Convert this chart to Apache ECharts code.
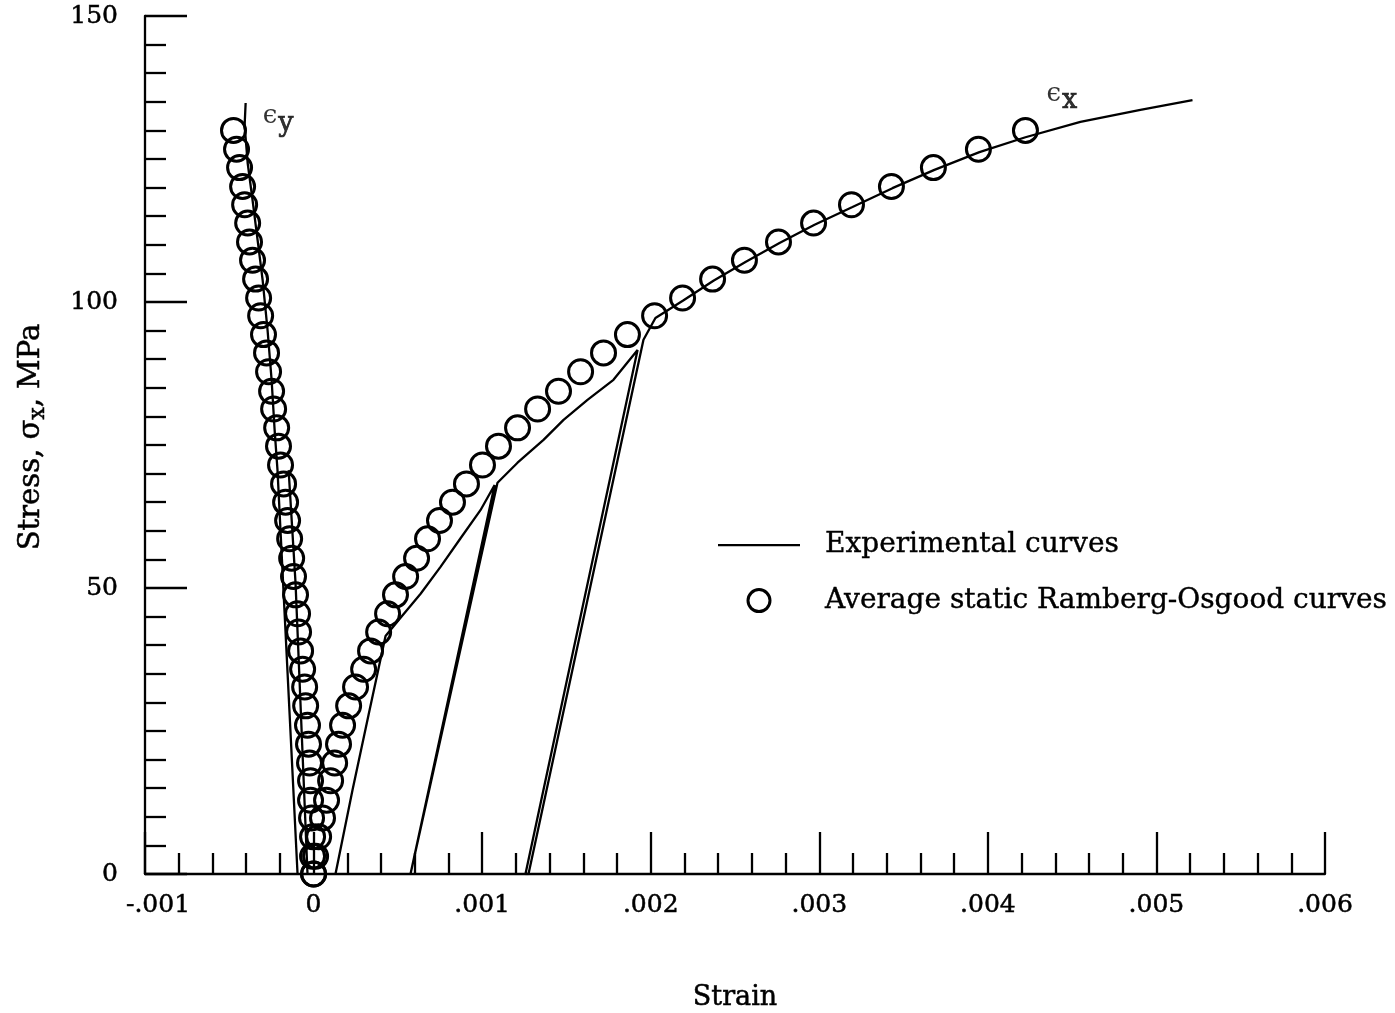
<!DOCTYPE html>
<html><head><meta charset="utf-8">
<script src="https://cdn.jsdelivr.net/npm/echarts@6/dist/echarts.min.js"></script>
<style>html,body{margin:0;padding:0;background:#fff}#c{width:1395px;height:1013px}</style>
</head><body><div id="c"></div>
<script>
// ---- tick labels ----
const xTickLabels = ['-.001', '0', '.001', '.002', '.003', '.004', '.005', '.006'];
const yTickLabels = ['0', '50', '100', '150'];

// ---- Average static Ramberg-Osgood curves (circles) ----
const roStress = [0, 3.1, 6.5, 9.8, 12.9, 16.3, 19.4, 22.7, 26.0, 29.4, 32.7, 35.8, 39.0, 42.3, 45.5, 48.8, 52.0, 55.2, 58.6, 61.8, 65.0,
  68.2, 71.5, 74.8, 78.0, 81.3, 84.4, 87.8, 91.1, 94.3, 97.6, 100.7, 104.0, 107.3, 110.5, 113.8, 117.0, 120.2, 123.5, 126.7, 130.0];
const roStrainY = [0, -0.000006, -0.000006, -0.000012, -0.000018, -0.000018, -0.000024, -0.00003, -0.000036, -0.000047, -0.000053,
  -0.000065, -0.000077, -0.000089, -0.000095, -0.000107, -0.000119, -0.00013, -0.000142, -0.000154, -0.000166, -0.000178, -0.000196,
  -0.000208, -0.000219, -0.000237, -0.000249, -0.000267, -0.000279, -0.000297, -0.000314, -0.000326, -0.000344, -0.000362, -0.00038,
  -0.000391, -0.000409, -0.000421, -0.000439, -0.000457, -0.000475];
const roStrainX = [0, 0.000012, 0.00003, 0.000053, 0.000077, 0.000101, 0.000125, 0.000148, 0.000172, 0.000208, 0.000249, 0.000297,
  0.000338, 0.000386, 0.000439, 0.000486, 0.000546, 0.000611, 0.000676, 0.000747, 0.000824, 0.000907, 0.001002, 0.001097, 0.00121,
  0.001329, 0.001453, 0.001584, 0.00172, 0.001862, 0.002023, 0.002189, 0.002367, 0.002556, 0.002758, 0.002966, 0.003191, 0.003428,
  0.003677, 0.003944, 0.004223];

// ---- Experimental curves ----
// eps_x: load, unload, reload, unload, reload to end
const expXStrain = [0.00013, 0.000231, 0.000326, 0.000386, 0.000427, 0.000516, 0.000635, 0.000753, 0.000872, 0.00099, 0.001074,
  0.000575, 0.001091, 0.00121, 0.001364, 0.001483, 0.001625, 0.001779, 0.001922, 0.001257, 0.001275, 0.001957, 0.002028, 0.002195,
  0.002372, 0.002562, 0.002764, 0.002972, 0.003197, 0.003434, 0.003683, 0.00395, 0.004223, 0.004549, 0.004905, 0.005214];
const expXStress = [0, 14.7, 27.8, 36.0, 41.6, 44.8, 49.0, 53.7, 58.7, 63.6, 68.0,
  0, 68.4, 71.9, 75.9, 79.4, 82.9, 86.4, 91.6, 0, 0, 93.4, 97.2, 100.3,
  103.7, 107.0, 110.3, 113.5, 116.6, 119.9, 123.1, 126.2, 128.8, 131.5, 133.6, 135.3];
// eps_y curve (top down to zero)
const expYStrain = [-0.000403, -0.000409, -0.000391, -0.000362, -0.000332, -0.000302, -0.000273, -0.000249, -0.000231, -0.000214, -0.000095];
const expYStress = [134.8, 130.9, 124.3, 117.8, 110.8, 103.8, 95.1, 86.4, 77.6, 70.6, 0];
// eps_y inner line
const expY2Strain = [-0.000148, -0.000107, -0.000036];
const expY2Stress = [70.6, 50.9, 0];

// ---- annotation anchors ----
const annotNames = ['y', 'x'];
const annotStrain = [-0.000302, 0.004348];
const annotStress = [131.8, 135.7];

const FONT = 'DejaVu Serif';
const pair = (xs, ys) => xs.map((v, i) => [v, ys[i]]);
const heavy = {textBorderColor: '#000', textBorderWidth: 0.5};

const chart = echarts.init(document.getElementById('c'), null, {renderer: 'canvas'});
const lineStyle = {color: '#000', width: 2.3};
const expSeries = (data) => ({
  name: 'Experimental curves', type: 'line', data, symbol: 'none', showSymbol: false,
  lineStyle, itemStyle: {color: '#000'}, animation: false, z: 3
});
const circStyle = {color: 'rgba(0,0,0,0)', borderColor: '#000', borderWidth: 3, opacity: 1};
const circSeries = (data) => ({
  name: 'Average static Ramberg-Osgood curves', type: 'scatter', data, symbol: 'circle', symbolSize: 24,
  itemStyle: circStyle, animation: false, z: 4
});

chart.setOption({
  backgroundColor: '#fff',
  animation: false,
  grid: {left: 145, right: 70, top: 16, bottom: 139, containLabel: false, outerBoundsMode: 'none'},
  legend: {
    left: 713, top: 526, orient: 'vertical', itemGap: 27, itemWidth: 82, itemHeight: 22,
    selectedMode: false,
    textStyle: {fontFamily: FONT, fontSize: 28, color: '#000', padding: [0, 0, 0, 20], textBorderColor: '#000', textBorderWidth: 0.4},
    data: [
      {name: 'Experimental curves', icon: 'path://M0,0 L82,0 L82,2.3 L0,2.3 Z', itemStyle: {color: '#000', borderWidth: 0}},
      {name: 'Average static Ramberg-Osgood curves', icon: 'circle', itemStyle: circStyle}
    ]
  },
  xAxis: {
    type: 'value', min: -0.001, max: 0.006, interval: 0.001,
    name: 'Strain', nameLocation: 'middle', nameGap: 110,
    nameTextStyle: Object.assign({fontFamily: FONT, fontSize: 27, color: '#000'}, heavy),
    axisLine: {show: true, onZero: false, lineStyle: {color: '#000', width: 2.3}},
    axisTick: {show: true, inside: true, length: 42, lineStyle: {color: '#000', width: 2.3}},
    minorTick: {show: true, splitNumber: 5, length: 21, lineStyle: {color: '#000', width: 2.3}},
    splitLine: {show: false}, minorSplitLine: {show: false},
    axisLabel: Object.assign({
      margin: 19, fontFamily: FONT, fontSize: 25, color: '#000',
      formatter: (v) => {
        const i = Math.round((v + 0.001) / 0.001);
        return i === 0 ? '{m|' + xTickLabels[i] + '}' : xTickLabels[i];
      },
      rich: {m: {fontFamily: FONT, fontSize: 25, color: '#000', padding: [0, 0, 0, 26], textBorderColor: '#000', textBorderWidth: 0.5}}
    }, heavy)
  },
  yAxis: {
    type: 'value', min: 0, max: 150, interval: 50,
    name: '{p|}{a|Stress, σ}{s|x}{a|, MPa}', nameLocation: 'middle', nameRotate: 90, nameGap: 96,
    nameTextStyle: {
      rich: {
        p: {width: 16, fontSize: 10},
        a: {fontFamily: FONT, fontSize: 29, color: '#000', lineHeight: 36, verticalAlign: 'middle', textBorderColor: '#000', textBorderWidth: 0.5},
        s: {fontFamily: FONT, fontSize: 22, color: '#000', lineHeight: 36, verticalAlign: 'bottom', textBorderColor: '#000', textBorderWidth: 0.5}
      }
    },
    axisLine: {show: true, onZero: false, lineStyle: {color: '#000', width: 2.3}},
    axisTick: {show: true, inside: true, length: 42, lineStyle: {color: '#000', width: 2.3}},
    minorTick: {show: true, splitNumber: 10, length: 21, lineStyle: {color: '#000', width: 2.3}},
    splitLine: {show: false}, minorSplitLine: {show: false},
    axisLabel: Object.assign({
      margin: 27, fontFamily: FONT, fontSize: 25, color: '#000',
      formatter: (v) => yTickLabels[Math.round(v / 50)]
    }, heavy)
  },
  series: [
    expSeries(pair(expXStrain, expXStress)),
    expSeries(pair(expYStrain, expYStress)),
    expSeries(pair(expY2Strain, expY2Stress)),
    circSeries(pair(roStrainY, roStress)),
    circSeries(pair(roStrainX, roStress)),
    {
      type: 'scatter', silent: true, symbolSize: 0, animation: false, z: 5,
      data: annotNames.map((n, i) => ({value: [annotStrain[i], annotStress[i]], name: n})),
      label: {
        show: true, position: 'right', distance: 0,
        formatter: (p) => '{e|ϵ}{s|' + p.name + '}',
        rich: {
          e: {fontFamily: FONT, fontSize: 26, color: '#000', lineHeight: 34, verticalAlign: 'top'},
          s: {fontFamily: FONT, fontSize: 27, color: '#000', lineHeight: 34, verticalAlign: 'bottom', padding: [22, 0, 0, 1],
              textBorderColor: '#000', textBorderWidth: 0.7}
        }
      }
    }
  ]
});
</script></body></html>
